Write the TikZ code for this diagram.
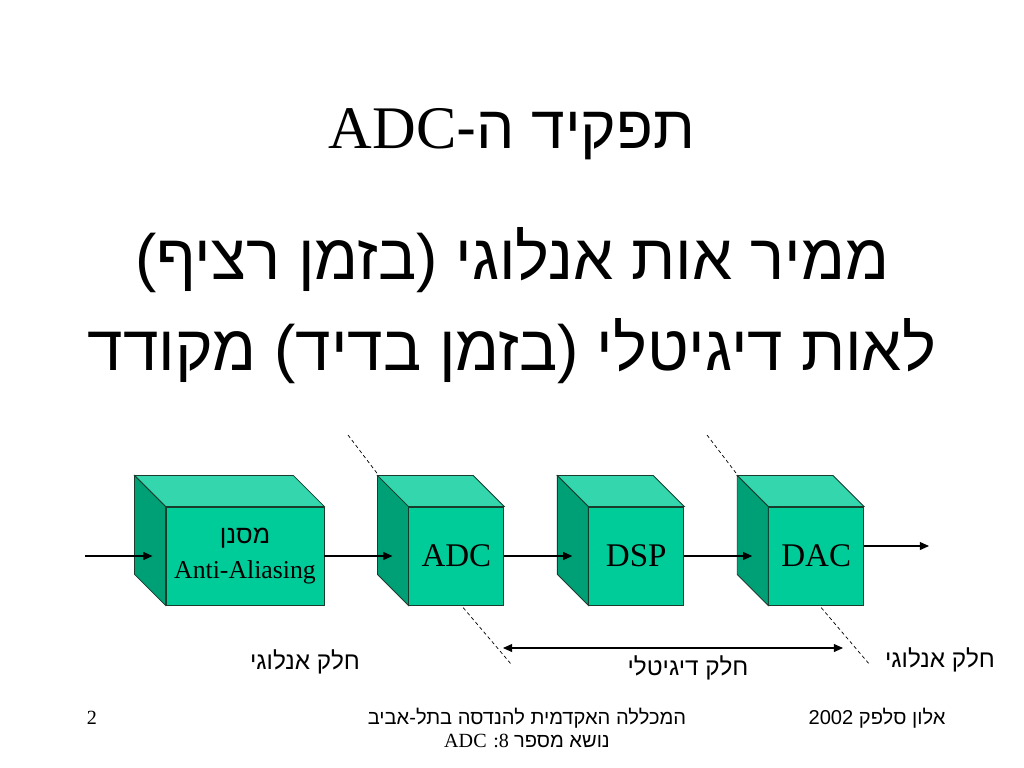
\documentclass[tikz,border=0pt]{standalone}
\usepackage{fontspec}
\setmainfont{Liberation Serif}
\newfontfamily\heb[Script=Hebrew]{Liberation Sans}
\TeXXeTstate=1
\usepackage{tikz}
\usetikzlibrary{arrows.meta,positioning}
\definecolor{cubefront}{RGB}{0,204,153}
\definecolor{cubetop}{RGB}{51,214,173}
\definecolor{cubeside}{RGB}{0,160,118}
\definecolor{cubeedge}{RGB}{25,60,45}
\tikzset{
  cube/.style={draw=cubeedge,line width=0.6pt,fill=cubefront,minimum width=2.375cm,minimum height=2.45cm,inner sep=0pt,align=center,font=\fontsize{23.5}{26}\selectfont},
  face/.style={draw=cubeedge,line width=0.6pt},
  flow/.style={-{Triangle[length=2.3mm,width=2mm]},line width=0.8pt},
  span/.style={{Triangle[length=2.3mm,width=2mm]}-{Triangle[length=2.3mm,width=2mm]},line width=0.8pt},
  cut/.style={dash pattern=on 2.5pt off 2pt,line width=0.5pt},
  part/.style={font=\heb\fontsize{17.3}{19}\selectfont},
  foot/.style={font=\fontsize{14.3}{16}\selectfont},
}
% top and side faces behind a front node
\newcommand{\cubefaces}[1]{%
  \draw[face,fill=cubetop] (#1.north west) -- ([shift={(-31,-31)}]#1.north west) -- ([shift={(-31,-31)}]#1.north east) -- (#1.north east) -- cycle;
  \draw[face,fill=cubeside] (#1.north west) -- ([shift={(-31,-31)}]#1.north west) -- ([shift={(-31,-31)}]#1.south west) -- (#1.south west) -- cycle;
}

\begin{document}
\begin{tikzpicture}[x=0.025cm,y=-0.025cm,node distance=2.1cm]
\useasboundingbox (0,0) rectangle (1024,768);

% title and text
\node[font=\fontsize{43}{46}\selectfont] (title) at (512,134) {\beginR{\heb תפקיד ה-}\beginL ADC\endL\endR};
\node[font=\heb\fontsize{45.5}{50}\selectfont] (line1) at (512,260) {\beginR ממיר אות אנלוגי (בזמן רציף)\endR};
\node[font=\heb\fontsize{45.5}{50}\selectfont] (line2) at (512,351) {\beginR לאות דיגיטלי (בזמן בדיד) מקודד\endR};

% cut lines (behind the cubes)
\draw[cut] (348,435) -- (392,493);
\draw[cut] (455,598) -- (511,664);
\draw[cut] (707,435) -- (752,494);
\draw[cut] (813,598) -- (870,665);

% cubes
\node[cube,minimum width=3.95cm] (filt) at (245,556) {{\heb\fontsize{18}{20}\selectfont\beginR מסנן\endR}\\[-1pt]{\fontsize{18.3}{20}\selectfont Anti-Aliasing}};
\node[cube,right=of filt] (adc) {ADC};
\node[cube,right=of adc] (dsp) {DSP};
\node[cube,right=of dsp] (dac) {DAC};
\cubefaces{filt}
\cubefaces{adc}
\cubefaces{dsp}
\cubefaces{dac}

% signal path
\coordinate (in) at (85,556);
\coordinate (out) at (929,546);
\draw[flow] (in) -- ([shift={(-13,0)}]filt.west);
\draw[flow] (filt.east) -- ([shift={(-16,0)}]adc.west);
\draw[flow] (adc.east) -- ([shift={(-16,0)}]dsp.west);
\draw[flow] (dsp.east) -- ([shift={(-16,0)}]dac.west);
\draw[flow] (dac.east |- out) -- (out);

% parts
\coordinate (digl) at (503,648);
\coordinate (digr) at (843,648);
\draw[span] (digl) -- (digr);
\node[part] (ana1) at (305,662) {\beginR חלק אנלוגי\endR};
\node[part] (digi) at (688,668) {\beginR חלק דיגיטלי\endR};
\node[part] (ana2) at (940,660) {\beginR חלק אנלוגי\endR};

% footer
\node[foot] (page) at (92,718) {2};
\node[foot,font=\heb\fontsize{14.3}{16}\selectfont] (college) at (527,718) {\beginR המכללה האקדמית להנדסה בתל-אביב\endR};
\node[foot] (topic) at (527,741) {\beginR{\heb נושא מספר} \beginL 8\endL: \beginL ADC\endL\endR};
\node[foot,font=\heb\fontsize{14.3}{16}\selectfont] (author) at (877,718) {\beginR אלון סלפק 2002\endR};
\end{tikzpicture}
\end{document}
